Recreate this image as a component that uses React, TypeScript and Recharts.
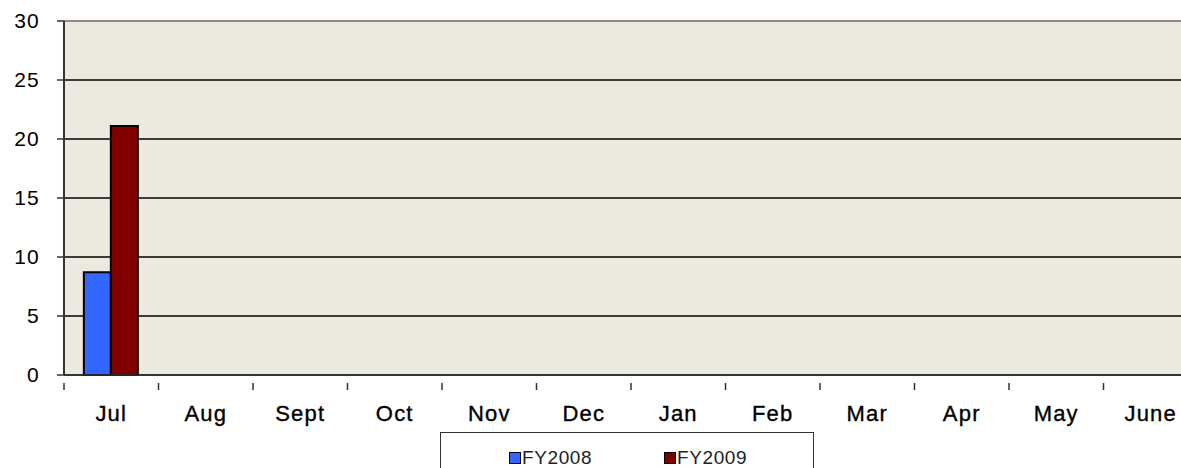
import { BarChart, Bar, XAxis, YAxis, CartesianGrid, ReferenceLine } from 'recharts';

const months = ['Jul', 'Aug', 'Sept', 'Oct', 'Nov', 'Dec', 'Jan', 'Feb', 'Mar', 'Apr', 'May', 'June'];
const fy2008 = [8.7, null, null, null, null, null, null, null, null, null, null, null];
const fy2009 = [21.1, null, null, null, null, null, null, null, null, null, null, null];
const yTicks = [0, 5, 10, 15, 20, 25, 30];

const chartData = months.map((m, i) => ({
  name: m,
  fy2008: fy2008[i],
  fy2009: fy2009[i],
}));

const font = 'Liberation Sans, Arial, sans-serif';

// label plus a tick mark on the left edge of each category
const MonthTick = (props: any) => {
  const { x, y, payload } = props;
  const half = payload && payload.offset ? payload.offset : 47.25;
  return (
    <g>
      <line x1={x - half} y1={y} x2={x - half} y2={y + 7} stroke='#333' strokeWidth={1.5} />
      <text
        x={x}
        y={y + 38}
        textAnchor='middle'
        fontFamily={font}
        fontSize={22}
        letterSpacing={1.2}
        stroke='#000'
        strokeWidth={0.35}
        fill='#000'
      >
        {payload.value}
      </text>
    </g>
  );
};

export default function App() {
  return (
    <div style={{ position: 'fixed', left: 0, top: 0, width: 1181, height: 468, overflow: 'hidden', background: '#fff' }}>
      <BarChart
        width={1200}
        height={468}
        data={chartData}
        margin={{ top: 21, right: 2, bottom: 53, left: 0 }}
        barCategoryGap='21%'
        barGap={0}
      >
        <CartesianGrid vertical={false} stroke='#000' strokeWidth={1.4} fill='#ECE9DF' />
        <ReferenceLine y={30} stroke='#8c8c8c' strokeWidth={2} />
        <XAxis
          dataKey='name'
          interval={0}
          height={40}
          axisLine={{ stroke: '#333', strokeWidth: 1.5 }}
          tickLine={false}
          tick={<MonthTick />}
        />
        <YAxis
          width={64}
          domain={[0, 30]}
          ticks={yTicks}
          interval={0}
          axisLine={{ stroke: '#333', strokeWidth: 2 }}
          tickLine={{ stroke: '#333', strokeWidth: 1.5 }}
          tickSize={7}
          tickMargin={17}
          tick={{ fill: '#000', fontSize: 21, fontFamily: font, letterSpacing: 1.2 }}
        />
        <Bar dataKey='fy2008' name='FY2008' fill='#3366FF' stroke='#000' strokeWidth={2} isAnimationActive={false} />
        <Bar dataKey='fy2009' name='FY2009' fill='#800000' stroke='#000' strokeWidth={2} isAnimationActive={false} />
      </BarChart>
      <div
        style={{
          position: 'absolute',
          left: 440,
          top: 432,
          width: 374,
          height: 60,
          border: '1.5px solid #333',
          background: '#fff',
          boxSizing: 'border-box',
          fontFamily: font,
          fontSize: 19,
          letterSpacing: 0.6,
          color: '#222',
        }}
      >
        <div style={{ position: 'absolute', left: 68, top: 14, display: 'flex', alignItems: 'center' }}>
          <span style={{ width: 10, height: 10, background: '#3366FF', border: '1px solid #000', marginRight: 1 }} />
          <span>FY2008</span>
        </div>
        <div style={{ position: 'absolute', left: 223, top: 14, display: 'flex', alignItems: 'center' }}>
          <span style={{ width: 10, height: 10, background: '#800000', border: '1px solid #000', marginRight: 1 }} />
          <span>FY2009</span>
        </div>
      </div>
    </div>
  );
}
